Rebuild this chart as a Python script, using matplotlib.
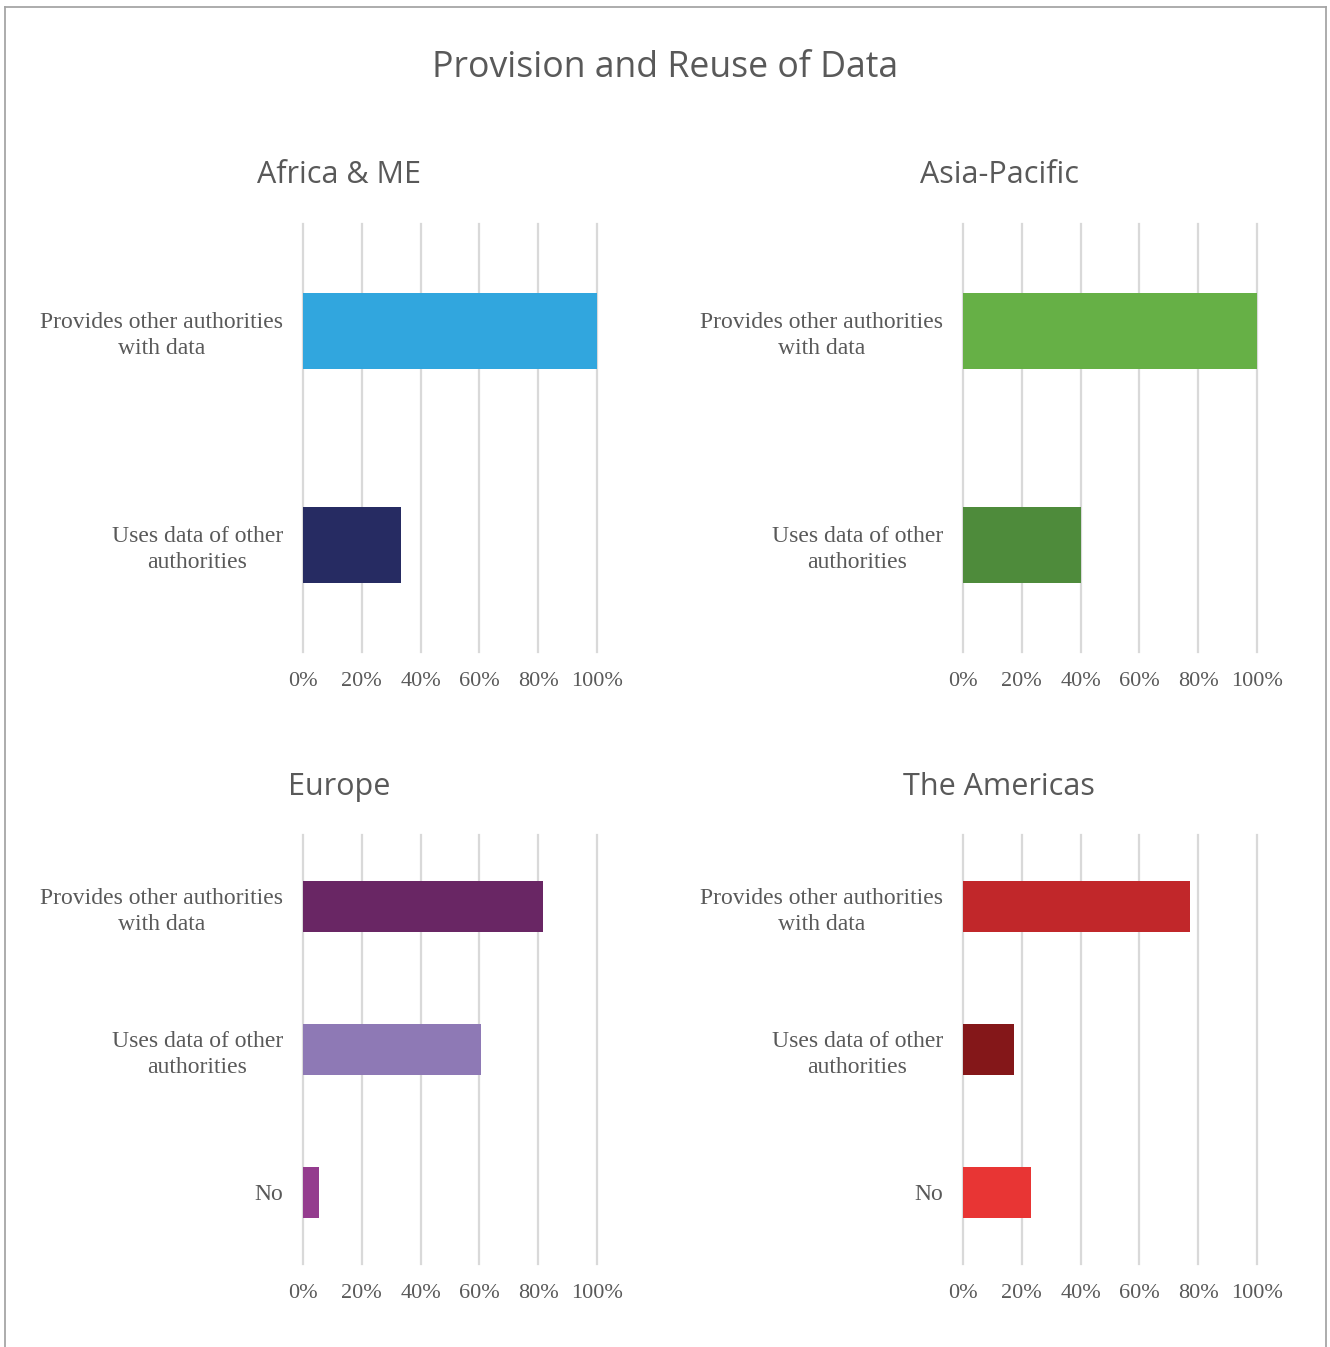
import matplotlib
matplotlib.use("Agg")
import matplotlib.pyplot as plt
from matplotlib.lines import Line2D
from matplotlib.ticker import FixedLocator

# Survey results: share of authorities per region (fraction of respondents)
cats_two = ["Provides other authorities\nwith data", "Uses data of other\nauthorities"]
cats_three = ["Provides other authorities\nwith data", "Uses data of other\nauthorities", "No"]

africa_vals = [1.00, 0.333]
asia_vals = [1.00, 0.40]
europe_vals = [0.816, 0.605, 0.053]
americas_vals = [0.772, 0.173, 0.23]

africa_colors = ["#31A6DE", "#262B62"]
asia_colors = ["#66B046", "#4E8B3B"]
europe_colors = ["#692664", "#8E79B5", "#943C8E"]
americas_colors = ["#C1272A", "#841719", "#E83534"]

x_ticks = [0, 0.2, 0.4, 0.6, 0.8, 1.0]
x_tick_labels = ["0%", "20%", "40%", "60%", "80%", "100%"]

TEXT = "#595959"
GRID = "#D9D9D9"
SERIF = ["Liberation Serif", "DejaVu Serif"]
SANS = ["Open Sans", "DejaVu Sans"]

W, H = 1330, 1347
fig = plt.figure(figsize=(W / 100, H / 100), dpi=100)
fig.patch.set_facecolor("white")

# outer frame (open at the bottom edge)
frame_kw = dict(color="#A6A6A6", lw=1.3, transform=fig.transFigure)
fig.add_artist(Line2D([5 / W, 5 / W], [0, 1 - 7 / H], **frame_kw))
fig.add_artist(Line2D([1326 / W, 1326 / W], [0, 1 - 7 / H], **frame_kw))
fig.add_artist(Line2D([5 / W, 1326 / W], [1 - 7 / H, 1 - 7 / H], **frame_kw))

fig.text(665 / W, 1 - 68 / H, "Provision and Reuse of Data", ha="center", va="center",
         fontsize=25.7, color=TEXT, family=SANS)

panels = [
    ("Africa & ME", cats_two, africa_vals, africa_colors, 303, 224, 652, 339, 175),
    ("Asia-Pacific", cats_two, asia_vals, asia_colors, 963, 224, 652, 999, 175),
    ("Europe", cats_three, europe_vals, europe_colors, 303, 835, 1264, 339, 787),
    ("The Americas", cats_three, americas_vals, americas_colors, 963, 835, 1264, 999, 787),
]

for title, cats, vals, colors, left, top, bottom, tx, ty in panels:
    ax = fig.add_axes([left / W, 1 - bottom / H, 294 / W, (bottom - top) / H])
    pos = list(range(len(cats)))
    ax.barh(pos, vals, height=0.356, color=colors, zorder=3)
    ax.set_ylim(len(cats) - 0.5, -0.5)
    ax.set_xlim(0, 1)
    ax.set_yticks(pos)
    ax.set_yticklabels(cats, fontsize=17, color=TEXT, family=SERIF,
                       multialignment="center", linespacing=1.3)
    ax.xaxis.set_major_locator(FixedLocator(x_ticks))
    ax.set_xticklabels(x_tick_labels, fontsize=16, color=TEXT, family=SERIF)
    ax.tick_params(axis="both", length=0)
    ax.tick_params(axis="y", pad=14.5)
    ax.tick_params(axis="x", pad=14.5)
    for s in ax.spines.values():
        s.set_visible(False)
    ax.grid(axis="x", color=GRID, lw=1.6, zorder=0)
    for gl in ax.get_xgridlines():
        gl.set_clip_on(False)
    ax.set_axisbelow(True)
    fig.text(tx / W, 1 - ty / H, title, ha="center", va="center",
             fontsize=22, color=TEXT, family=SANS)

fig.savefig("out.png", dpi=100, facecolor="white")
